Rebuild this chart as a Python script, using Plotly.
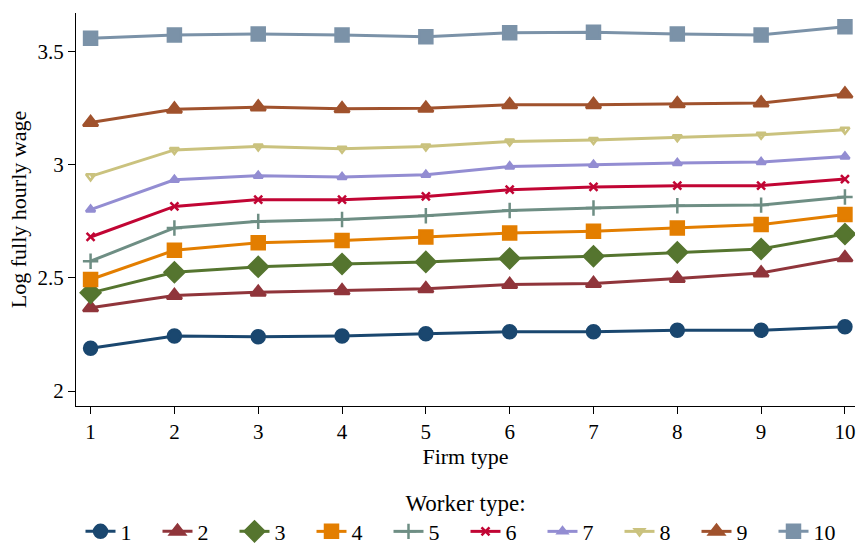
import plotly.graph_objects as go

firm_types = [1, 2, 3, 4, 5, 6, 7, 8, 9, 10]
worker_types = ["1", "2", "3", "4", "5", "6", "7", "8", "9", "10"]

w1 = [2.189, 2.243, 2.240, 2.243, 2.253, 2.262, 2.262, 2.269, 2.269, 2.284]
w2 = [2.368, 2.422, 2.437, 2.443, 2.452, 2.471, 2.475, 2.497, 2.522, 2.589]
w3 = [2.434, 2.525, 2.549, 2.562, 2.571, 2.586, 2.596, 2.613, 2.628, 2.694]
w4 = [2.493, 2.622, 2.655, 2.666, 2.681, 2.699, 2.706, 2.721, 2.736, 2.780]
w5 = [2.574, 2.721, 2.750, 2.758, 2.775, 2.798, 2.809, 2.819, 2.822, 2.858]
w6 = [2.681, 2.816, 2.846, 2.846, 2.860, 2.890, 2.902, 2.908, 2.908, 2.937]
w7 = [2.802, 2.934, 2.952, 2.946, 2.956, 2.993, 3.000, 3.008, 3.012, 3.037]
w8 = [2.949, 3.066, 3.081, 3.071, 3.081, 3.103, 3.110, 3.122, 3.133, 3.155]
w9 = [3.187, 3.246, 3.255, 3.248, 3.250, 3.265, 3.266, 3.270, 3.273, 3.313]
w10 = [3.559, 3.574, 3.578, 3.574, 3.566, 3.584, 3.586, 3.578, 3.574, 3.610]

series = [w1, w2, w3, w4, w5, w6, w7, w8, w9, w10]
colors = ["#1a476f", "#90353b", "#55752f", "#e37e00", "#6e8e84",
          "#c10534", "#938dd2", "#cac27e", "#a0522d", "#7b92a8"]
symbols = ["circle", "triangle-up", "diamond", "square", "cross-thin",
           "x-thin", "triangle-up", "triangle-down-open", "triangle-up", "square"]
sizes = [13, 13, 15, 13, 11, 8, 8, 8, 13, 13]

FONT = "Liberation Serif"

fig = go.Figure()
for name, ys, c, s, sz in zip(worker_types, series, colors, symbols, sizes):
    fig.add_trace(go.Scatter(
        x=firm_types, y=ys, name=name, mode="lines+markers",
        line=dict(color=c, width=3),
        marker=dict(color=c, symbol=s, size=sz,
                    line=dict(color=c, width=2.5)),
    ))

fig.update_layout(
    width=857, height=546,
    margin=dict(l=76, r=2, t=13, b=140, autoexpand=False),
    plot_bgcolor="white", paper_bgcolor="white",
    font=dict(family=FONT, size=21, color="black"),
    showlegend=True,
    legend=dict(
        orientation="h", x=0.5, xanchor="center", y=-0.19, yanchor="top",
        title=dict(text="Worker type:", side="top center",
                   font=dict(family=FONT, size=23)),
        font=dict(family=FONT, size=22),
        entrywidth=32, entrywidthmode="pixels",
        itemwidth=30,
        tracegroupgap=0,
    ),
    xaxis=dict(
        range=[0.826, 10.12], tickmode="array", tickvals=firm_types,
        ticktext=[str(v) for v in firm_types],
        showgrid=False, zeroline=False, showline=True, linecolor="black",
        linewidth=1, ticks="outside", ticklen=7, tickcolor="black",
        title=dict(text="Firm type", standoff=0,
                   font=dict(family=FONT, size=22)),
        tickfont=dict(family=FONT, size=21),
        automargin=False,
    ),
    yaxis=dict(
        range=[1.934, 3.671], tickmode="array", tickvals=[2, 2.5, 3, 3.5],
        ticktext=["2", "2.5", "3", "3.5"],
        showgrid=False, zeroline=False, showline=True, linecolor="black",
        linewidth=1, ticks="outside", ticklen=7, tickcolor="black",
        title=dict(text="Log fully hourly wage", standoff=4,
                   font=dict(family=FONT, size=22)),
        tickfont=dict(family=FONT, size=21),
        automargin=False,
    ),
)

fig.write_html("out.html", config={"displayModeBar": False},
               post_script="document.body.style.margin='0';document.body.style.padding='0';")
